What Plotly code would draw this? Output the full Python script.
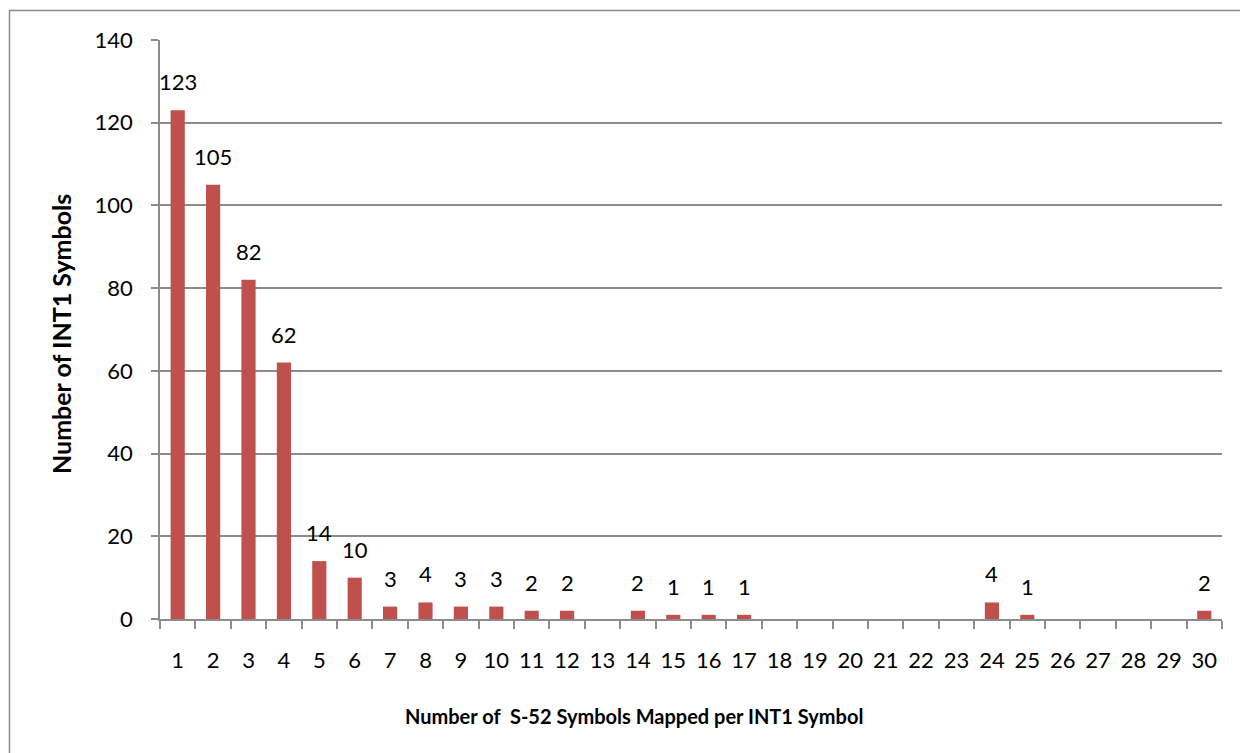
import plotly.graph_objects as go

categories = [str(i) for i in range(1, 31)]
values = [123, 105, 82, 62, 14, 10, 3, 4, 3, 3, 2, 2, None, 2, 1, 1, 1,
          None, None, None, None, None, None, 4, 1, None, None, None, None, 2]
y_ticks = [0, 20, 40, 60, 80, 100, 120, 140]

x_title = "Number of\u00a0 S-52 Symbols Mapped per INT1 Symbol"
y_title = "Number of INT1 Symbols"

FONT = "Lato, 'Open Sans', sans-serif"
BAR = "#C0504D"
GRID = "#8C8C8C"

# page has an 8px default body margin; figure coordinates are page - 8
OFF = 8
W, H = 1240, 745
L, R, T, B = 160 - OFF, W - (1222 - OFF), 40 - OFF, H - (619 - OFF)
pw, ph = W - L - R, H - T - B


def px_x(page_x):
    return (page_x - OFF - L) / pw


def px_y(page_y):
    return (H - B - (page_y - OFF)) / ph


fig = go.Figure()
fig.add_trace(go.Bar(
    x=categories, y=values, marker=dict(color=BAR, line=dict(width=0)),
    showlegend=False, hoverinfo="x+y",
))

annotations = []
for i, v in enumerate(values):
    if v is None:
        continue
    annotations.append(dict(
        x=i, y=v, xref="x", yref="y", text=str(v), showarrow=False,
        yanchor="bottom", yshift=13, font=dict(family=FONT, size=22, color="#000"),
    ))

annotations.append(dict(
    x=px_x(634), y=px_y(716), xref="paper", yref="paper", text="<b>%s</b>" % x_title,
    showarrow=False, xanchor="center", yanchor="middle",
    font=dict(family=FONT, size=20, color="#000"),
))
annotations.append(dict(
    x=px_x(61), y=px_y(334), xref="paper", yref="paper", text="<b>%s</b>" % y_title,
    showarrow=False, textangle=-90, xanchor="center", yanchor="middle",
    font=dict(family=FONT, size=25, color="#000"),
))

fig.update_layout(
    width=W, height=H,
    margin=dict(l=L, r=R, t=T, b=B, pad=0),
    paper_bgcolor="white", plot_bgcolor="white",
    bargap=0.6,
    font=dict(family=FONT, size=22, color="#000"),
    annotations=annotations,
    shapes=[dict(
        type="rect", xref="paper", yref="paper",
        x0=px_x(9.5), x1=px_x(1300),
        y0=px_y(800), y1=px_y(10.5),
        line=dict(color="#8C8C8C", width=1.5), fillcolor="rgba(0,0,0,0)", layer="below",
    )],
    xaxis=dict(
        type="category", categoryorder="array", categoryarray=categories,
        showline=True, linecolor=GRID, linewidth=1.5,
        ticks="outside", ticklen=8, tickcolor=GRID, tickwidth=1.5,
        tickson="boundaries", showgrid=False, ticklabelstandoff=21,
        tickfont=dict(family=FONT, size=22, color="#000"),
        range=[-0.5, 29.5], fixedrange=True,
    ),
    yaxis=dict(
        range=[0, 140], tickvals=y_ticks, showline=True, linecolor=GRID, linewidth=1.5,
        ticks="outside", ticklen=7, tickcolor=GRID, tickwidth=1.5,
        showgrid=True, gridcolor=GRID, gridwidth=1.5, zeroline=False,
        ticklabelstandoff=14,
        tickfont=dict(family=FONT, size=22, color="#000"),
    ),
)

fig.write_html("out.html")
